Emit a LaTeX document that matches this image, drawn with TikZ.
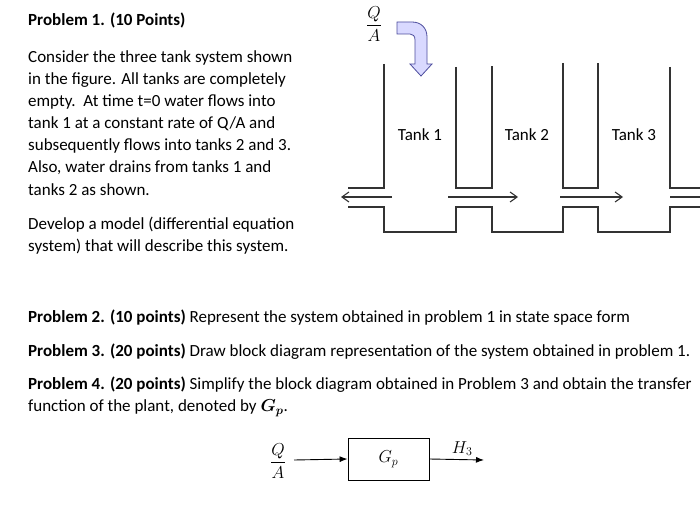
\documentclass[tikz,border=0pt]{standalone}
\usepackage{fontspec}
\setmainfont{Carlito}
\usepackage{amsmath}
\usetikzlibrary{arrows.meta}
\begin{document}
\begin{tikzpicture}[x=1pt,y=-1pt,
  txt/.style={anchor=west,inner sep=0pt,font=\fontsize{17}{19}\selectfont},
  lbl/.style={font=\fontsize{17}{19}\selectfont},
  wall/.style={line width=1.3pt,color=black!80},
  flow/.style={line width=1.1pt,color=black!80,-{Straight Barb[length=7pt,width=10pt]}},
  blk/.style={draw,line width=0.9pt,minimum width=81pt,minimum height=42pt,inner sep=0pt},
  sig/.style={line width=0.9pt,-{Latex[length=8pt,width=6pt]}}]
\useasboundingbox (0,0) rectangle (700,526);
% left text
\node[txt] (h1) at (28,20) {\textbf{Problem 1. (10 Points)}};
\node[txt] (l1) at (28,58) {Consider the three tank system shown};
\node[txt] (l2) at (28,80) {in the figure. All tanks are completely};
\node[txt] (l3) at (28,102) {empty.\ \ At time t=0 water flows into};
\node[txt] (l4) at (28,124) {tank 1 at a constant rate of Q/A and};
\node[txt] (l5) at (28,146) {subsequently flows into tanks 2 and 3.};
\node[txt] (l6) at (28,168) {Also, water drains from tanks 1 and};
\node[txt] (l7) at (28,190) {tanks 2 as shown.};
\node[txt] (l8) at (28,225) {Develop a model (differential equation};
\node[txt] (l9) at (28,247) {system) that will describe this system.};
% tanks
\draw[wall] (384,64) -- (384,188) -- (348,188);
\draw[wall] (456,67) -- (456,188) -- (492,188) -- (492,66);
\draw[wall] (563,63) -- (563,188) -- (598,188) -- (598,63);
\draw[wall] (670,67) -- (670,188) -- (700,188);
\draw[wall] (348,207) -- (384,207) -- (384,232) -- (456,232) -- (456,207) -- (492,207) -- (492,232)
  -- (563,232) -- (563,207) -- (598,207) -- (598,232) -- (670,232) -- (670,207) -- (700,207);
\coordinate (d1) at (392,197); \coordinate (d0) at (341,197);
\coordinate (a1) at (448,197); \coordinate (a2) at (518,197);
\coordinate (b1) at (560,197); \coordinate (b2) at (623,197);
\coordinate (c1) at (670,197); \coordinate (c2) at (700,197);
\draw[flow] (d1) -- (d0);
\draw[flow] (a1) -- (a2);
\draw[flow] (b1) -- (b2);
\draw[wall,line width=1.1pt] (c1) -- (c2);
\node[lbl] (t1) at (420,135) {Tank 1};
\node[lbl] (t2) at (527,135) {Tank 2};
\node[lbl] (t3) at (634,135) {Tank 3};
\node[lbl] (qa) at (374,24) {$\displaystyle\frac{Q}{A}$};
% bent blue arrow
\draw[draw=blue!45!black!70,fill=blue!15,line width=0.8pt]
  (397,22) -- (412,22) .. controls (421,22) and (427,28) .. (427,37) -- (427,64) -- (432,64) -- (421,76)
  -- (410,64) -- (415,64) -- (415,40) .. controls (415,36) and (413,34) .. (410,34) -- (397,34) -- cycle;
% problems 2-4
\node[txt] (p2) at (28,318) {\textbf{Problem 2. (10 points)} Represent the system obtained in problem 1 in state space form};
\node[txt] (p3) at (28,352) {\textbf{Problem 3. (20 points)} Draw block diagram representation of the system obtained in problem 1.};
\node[txt] (p4) at (28,385) {\textbf{Problem 4. (20 points)} Simplify the block diagram obtained in Problem 3 and obtain the transfer};
\node[txt] (p4b) at (28,408) {function of the plant, denoted by $\boldsymbol{G_p}$.};
% block diagram
\node[lbl] (in) at (278,461) {$\displaystyle\frac{Q}{A}$};
\node[blk,lbl] (gp) at (388.5,459) {$G_p$};
\coordinate (out) at (484,460);
\draw[sig] (294,460) -- (gp.west);
\draw[sig] (gp.east) -- (out) node[lbl,pos=0.6,above=0pt] {$H_3$};
\end{tikzpicture}
\end{document}
